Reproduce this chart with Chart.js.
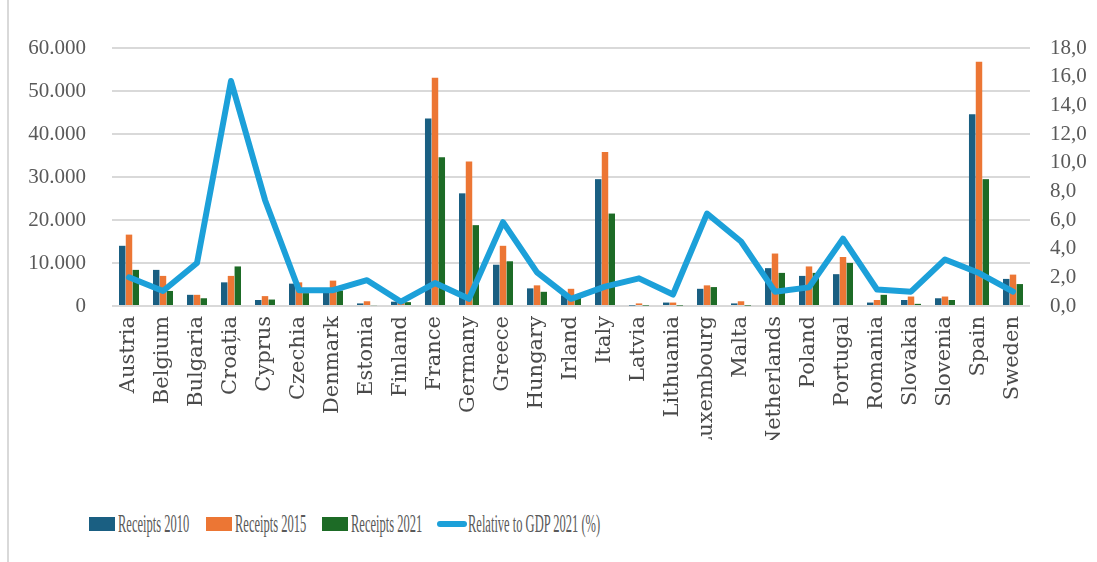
<!DOCTYPE html>
<html lang="en">

<head>
    <meta charset="UTF-8">
    <title>Tourism Receipts</title>
    <script src="https://cdn.jsdelivr.net/npm/chart.js"></script>
    <style>
        body {
            margin: 0;
            padding: 0;
            background: #ffffff;
        }

        .frame {
            position: relative;
            width: 1097px;
            height: 562px;
            overflow: hidden;
        }

        .frame::before {
            content: "";
            position: absolute;
            left: 7px;
            top: 0;
            bottom: 0;
            border-left: 2px solid #d9d9d9;
        }

        #receiptsChart {
            position: absolute;
            left: 0;
            top: 0;
        }

        .legend-item {
            position: absolute;
            top: 510px;
            height: 28px;
            display: flex;
            align-items: center;
            font-family: 'Liberation Serif', serif;
            font-size: 25px;
            color: #595959;
            white-space: nowrap;
        }

        .legend-item .box {
            width: 26px;
            height: 14px;
            margin-right: 3px;
            flex: none;
        }

        .legend-item .stroke {
            width: 30px;
            height: 6px;
            border-radius: 3px;
            margin-right: 1px;
            flex: none;
        }

        .legend-item .label {
            display: inline-block;
            transform: scaleX(0.5);
            transform-origin: left center;
        }
    </style>
</head>

<body>
    <div class="frame">
        <canvas id="receiptsChart" width="1097" height="440"></canvas>
        <div class="legend-item" style="left: 89px;"><span class="box" style="background:#1a5f82"></span><span class="label">Receipts 2010</span></div>
        <div class="legend-item" style="left: 206px;"><span class="box" style="background:#ec7634"></span><span class="label">Receipts 2015</span></div>
        <div class="legend-item" style="left: 322px;"><span class="box" style="background:#1d6b26"></span><span class="label">Receipts 2021</span></div>
        <div class="legend-item" style="left: 437px;"><span class="stroke" style="background:#1ca0d9"></span><span class="label">Relative to GDP 2021 (%)</span></div>
    </div>

    <script>
        const countries = ["Austria", "Belgium", "Bulgaria", "Croația", "Cyprus", "Czechia", "Denmark", "Estonia",
            "Finland", "France", "Germany", "Greece", "Hungary", "Irland", "Italy", "Latvia", "Lithuania",
            "Luxembourg", "Malta", "Netherlands", "Poland", "Portugal", "Romania", "Slovakia", "Slovenia",
            "Spain", "Sweden"];

        const receipts2010 = [14000, 8400, 2600, 5500, 1400, 5200, 3300, 600, 1000, 43600, 26200, 9600, 4100,
            2500, 29500, 100, 800, 4000, 600, 8800, 7000, 7400, 800, 1400, 1800, 44600, 6300];

        const receipts2015 = [16600, 7000, 2600, 7000, 2300, 5500, 5900, 1100, 1200, 53100, 33600, 14000, 4800,
            4000, 35800, 600, 800, 4800, 1100, 12200, 9200, 11400, 1400, 2200, 2200, 56800, 7300];

        const receipts2021 = [8400, 3500, 1800, 9200, 1500, 3000, 3600, 200, 900, 34600, 18800, 10400, 3300,
            2000, 21500, 100, 100, 4400, 100, 7700, 7700, 10000, 2600, 500, 1400, 29500, 5100];

        const gdpShare2021 = [2.0, 1.05, 3.0, 15.7, 7.4, 1.1, 1.1, 1.8, 0.3, 1.6, 0.5, 5.85, 2.35, 0.5, 1.35,
            1.93, 0.8, 6.45, 4.5, 1.0, 1.3, 4.7, 1.15, 1.0, 3.25, 2.3, 1.0];

        const leftTicks = [0, 10000, 20000, 30000, 40000, 50000, 60000];
        const rightTicks = [0, 2, 4, 6, 8, 10, 12, 14, 16, 18];

        const tickFont = { family: "'Liberation Serif', serif", size: 21 };
        const tickColor = '#595959';

        // 60000 -> "60.000", 2 -> "2,0"
        const thousands = v => v === 0 ? '0' : v.toLocaleString('de-DE');
        const oneDecimal = v => v.toFixed(1).replace('.', ',');

        function barSet(label, data, color) {
            return {
                type: 'bar',
                label: label,
                data: data,
                backgroundColor: color,
                yAxisID: 'y',
                order: 1,
                categoryPercentage: 0.6,
                barPercentage: 0.95
            };
        }

        const ctx = document.getElementById('receiptsChart').getContext('2d');
        new Chart(ctx, {
            data: {
                labels: countries,
                datasets: [
                    barSet('Receipts 2010', receipts2010, '#1a5f82'),
                    barSet('Receipts 2015', receipts2015, '#ec7634'),
                    barSet('Receipts 2021', receipts2021, '#1d6b26'),
                    {
                        type: 'line',
                        label: 'Relative to GDP 2021 (%)',
                        data: gdpShare2021,
                        borderColor: '#1ca0d9',
                        borderWidth: 6,
                        borderJoinStyle: 'round',
                        borderCapStyle: 'round',
                        pointRadius: 0,
                        tension: 0,
                        yAxisID: 'y1',
                        order: 0
                    }
                ]
            },
            options: {
                responsive: false,
                animation: false,
                layout: { padding: { top: 48, left: 10, right: 6, bottom: 0 } },
                plugins: {
                    legend: { display: false },
                    tooltip: { enabled: false }
                },
                scales: {
                    x: {
                        grid: { display: false, drawTicks: false },
                        border: { display: false },
                        ticks: {
                            autoSkip: false,
                            minRotation: 90,
                            maxRotation: 90,
                            padding: 10,
                            color: '#4a4a4a',
                            font: { family: "'DejaVu Serif', serif", size: 21 }
                        },
                        afterFit: s => { s.height = 134; }
                    },
                    y: {
                        position: 'left',
                        min: 0,
                        max: 60000,
                        afterBuildTicks: s => { s.ticks = leftTicks.map(v => ({ value: v })); },
                        grid: { color: '#d9d9d9', lineWidth: 2, drawTicks: false },
                        border: { display: false },
                        ticks: { padding: 26, color: tickColor, font: tickFont, callback: thousands },
                        afterFit: s => { s.width = 102; }
                    },
                    y1: {
                        position: 'right',
                        min: 0,
                        max: 18,
                        afterBuildTicks: s => { s.ticks = rightTicks.map(v => ({ value: v })); },
                        grid: { display: false, drawTicks: false },
                        border: { display: false },
                        ticks: { padding: 20, color: tickColor, font: tickFont, callback: oneDecimal },
                        afterFit: s => { s.width = 61; }
                    }
                }
            }
        });
    </script>
</body>

</html>
